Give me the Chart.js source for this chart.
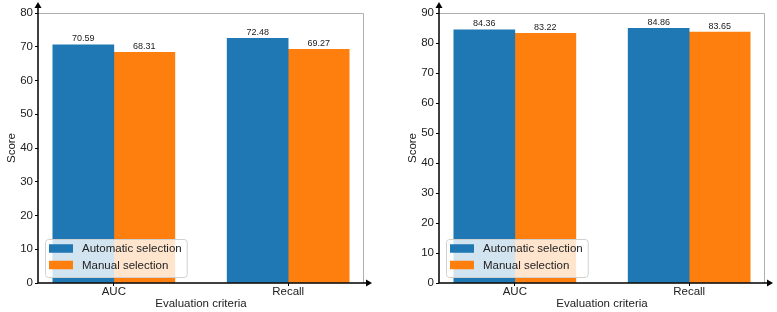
<!DOCTYPE html>
<html>
<head>
<meta charset="utf-8">
<script src="https://cdn.jsdelivr.net/npm/chart.js@4"></script>
<style>
  html, body { margin: 0; padding: 0; background: #fff; }
  .panel { position: absolute; top: 0; height: 312px; }
  #left { left: 0; width: 388px; }
  #right { left: 390px; width: 387px; }
</style>
</head>
<body>
<div class="panel" id="left"><canvas id="chartLeft"></canvas></div>
<div class="panel" id="right"><canvas id="chartRight"></canvas></div>
<script>
const categories = ['AUC', 'Recall']
const seriesNames = ['Automatic selection', 'Manual selection']
const seriesColors = ['#1f77b4', '#ff7f0e']

const autoLeft = [70.59, 72.48]
const manualLeft = [68.31, 69.27]
const autoRight = [84.36, 84.86]
const manualRight = [83.22, 83.65]

const leftTicks = [0, 10, 20, 30, 40, 50, 60, 70, 80]
const rightTicks = [0, 10, 20, 30, 40, 50, 60, 70, 80, 90]

const barWidth = 0.35

Chart.defaults.font.family = '"Liberation Sans", Arial, sans-serif'
Chart.defaults.font.size = 11.5
Chart.defaults.color = '#222'

// frame, axes with arrow heads
const axesPlugin = {
  id: 'axes',
  afterDraw(chart) {
    const { ctx, chartArea: a } = chart
    ctx.save()
    ctx.strokeStyle = '#b0b0b0'
    ctx.lineWidth = 1
    ctx.beginPath()
    ctx.moveTo(a.left, a.top + 0.5)
    ctx.lineTo(a.right - 0.5, a.top + 0.5)
    ctx.lineTo(a.right - 0.5, a.bottom)
    ctx.stroke()

    ctx.strokeStyle = '#000'
    ctx.fillStyle = '#000'
    ctx.lineWidth = 1.5
    const yTip = a.top - 11
    const xTip = a.right + 8
    ctx.beginPath()
    ctx.moveTo(a.left, a.bottom)
    ctx.lineTo(a.left, yTip + 4)
    ctx.moveTo(a.left, a.bottom)
    ctx.lineTo(xTip - 4, a.bottom)
    ctx.stroke()

    ctx.beginPath()
    ctx.moveTo(a.left, yTip)
    ctx.lineTo(a.left - 3.5, yTip + 6)
    ctx.lineTo(a.left + 3.5, yTip + 6)
    ctx.closePath()
    ctx.fill()
    ctx.beginPath()
    ctx.moveTo(xTip, a.bottom)
    ctx.lineTo(xTip - 6, a.bottom - 3.5)
    ctx.lineTo(xTip - 6, a.bottom + 3.5)
    ctx.closePath()
    ctx.fill()
    ctx.restore()
  },
}

// value labels and a matplotlib-like legend in the lower left
const labelsPlugin = {
  id: 'labels',
  afterDatasetsDraw(chart) {
    const { ctx, chartArea: a } = chart
    ctx.save()
    ctx.font = '9px "Liberation Sans", Arial, sans-serif'
    ctx.fillStyle = '#222'
    ctx.textAlign = 'center'
    ctx.textBaseline = 'bottom'
    chart.data.datasets.forEach((ds, i) => {
      chart.getDatasetMeta(i).data.forEach((bar, j) => {
        ctx.fillText(ds.data[j].y.toFixed(2), bar.x, bar.y - 1.5)
      })
    })

    ctx.font = '11.5px "Liberation Sans", Arial, sans-serif'
    const textW = Math.max(...chart.data.datasets.map(ds => ctx.measureText(ds.label).width))
    const boxH = 38
    const boxW = 37 + textW + 5
    const bx = a.left + 7
    const by = a.bottom - 6 - boxH
    ctx.beginPath()
    ctx.roundRect(bx + 0.5, by + 0.5, boxW, boxH, 3)
    ctx.fillStyle = 'rgba(255,255,255,0.8)'
    ctx.fill()
    ctx.strokeStyle = '#d0d0d0'
    ctx.lineWidth = 1
    ctx.stroke()

    ctx.textAlign = 'left'
    ctx.textBaseline = 'middle'
    chart.data.datasets.forEach((ds, i) => {
      const cy = by + 9.5 + i * 16.5
      ctx.fillStyle = ds.backgroundColor
      ctx.fillRect(bx + 4, cy - 4.25, 24, 8.5)
      ctx.fillStyle = '#222'
      ctx.fillText(ds.label, bx + 37, cy + 0.5)
    })
    ctx.restore()
  },
}

function makeChart(el, autoVals, manualVals, yTicks, padLeft, padRight) {
  const series = [autoVals, manualVals]
  new Chart(el, {
    type: 'bar',
    data: {
      datasets: series.map((vals, s) => ({
        label: seriesNames[s],
        backgroundColor: seriesColors[s],
        data: vals.map((v, i) => ({ x: i + (s === 0 ? -barWidth / 2 : barWidth / 2), y: v })),
        grouped: false,
        barPercentage: 1,
        categoryPercentage: 1,
        borderWidth: 0,
      })),
    },
    options: {
      responsive: true,
      maintainAspectRatio: false,
      animation: false,
      layout: { padding: { left: padLeft, right: padRight, top: 13, bottom: 0 } },
      plugins: { legend: { display: false }, tooltip: { enabled: false } },
      scales: {
        x: {
          type: 'linear',
          min: -0.435,
          max: 1.435,
          offset: false,
          afterBuildTicks: (scale) => { scale.ticks = categories.map((c, i) => ({ value: i })) },
          afterFit: (scale) => { scale.height = 29 },
          ticks: { callback: (v) => categories[v], padding: -1, color: '#222' },
          grid: { offset: false, drawOnChartArea: false, drawTicks: true, tickLength: 3, color: '#000' },
          border: { display: false },
          title: { display: true, text: 'Evaluation criteria', padding: { top: 0, bottom: 1 }, color: '#222' },
        },
        y: {
          min: yTicks[0],
          max: yTicks[yTicks.length - 1],
          afterBuildTicks: (scale) => { scale.ticks = yTicks.map(v => ({ value: v })) },
          afterFit: (scale) => { scale.width = 38 },
          ticks: { padding: 2, color: '#222' },
          grid: { drawOnChartArea: false, drawTicks: true, tickLength: 3, color: '#000' },
          border: { display: false },
          title: { display: true, text: 'Score', padding: { top: 5, bottom: 0 }, color: '#222' },
        },
      },
    },
    plugins: [axesPlugin, labelsPlugin],
  })
}

makeChart(document.getElementById('chartLeft'), autoLeft, manualLeft, leftTicks, 0, 24)
makeChart(document.getElementById('chartRight'), autoRight, manualRight, rightTicks, 11, 12)
</script>
</body>
</html>
